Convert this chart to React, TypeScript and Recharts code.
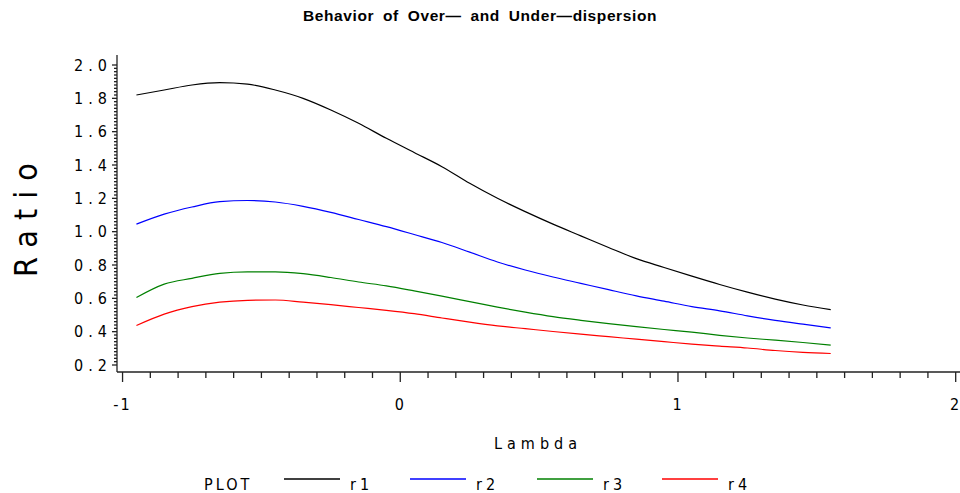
import React from 'react';
import { LineChart, Line, XAxis, YAxis, Legend } from 'recharts';

const lambda = [-0.95, -0.85, -0.75, -0.65, -0.55, -0.45, -0.35, -0.25, -0.15, -0.05, 0.05, 0.15, 0.25, 0.35, 0.45, 0.55, 0.65, 0.75, 0.85, 0.95, 1.05, 1.15, 1.25, 1.35, 1.45, 1.55];
const r1 = [1.82, 1.85, 1.88, 1.894, 1.885, 1.85, 1.8, 1.73, 1.65, 1.56, 1.475, 1.39, 1.29, 1.2, 1.12, 1.045, 0.975, 0.905, 0.838, 0.785, 0.733, 0.683, 0.637, 0.595, 0.56, 0.532];
const r2 = [1.045, 1.105, 1.148, 1.18, 1.187, 1.178, 1.152, 1.116, 1.073, 1.03, 0.983, 0.935, 0.877, 0.818, 0.77, 0.728, 0.69, 0.652, 0.615, 0.583, 0.55, 0.525, 0.495, 0.468, 0.445, 0.423];
const r3 = [0.605, 0.685, 0.72, 0.75, 0.759, 0.759, 0.748, 0.725, 0.698, 0.675, 0.645, 0.613, 0.58, 0.547, 0.517, 0.49, 0.468, 0.448, 0.43, 0.413, 0.397, 0.378, 0.362, 0.349, 0.335, 0.319];
const r4 = [0.437, 0.505, 0.55, 0.577, 0.588, 0.59, 0.577, 0.562, 0.545, 0.528, 0.508, 0.482, 0.457, 0.435, 0.418, 0.401, 0.385, 0.37, 0.355, 0.34, 0.325, 0.313, 0.302, 0.287, 0.276, 0.269];

const seriesNames = ['r1', 'r2', 'r3', 'r4'];
const seriesColors = ['#000000', '#0000ff', '#008000', '#ff0000'];
const seriesValues = [r1, r2, r3, r4];

const xMajorTicks = [-1, 0, 1, 2];
const xMajorLabels = ['-1', '0', '1', '2'];
const yMajorTicks = [0.2, 0.4, 0.6, 0.8, 1.0, 1.2, 1.4, 1.6, 1.8, 2.0];
const yMajorLabels = ['0.2', '0.4', '0.6', '0.8', '1.0', '1.2', '1.4', '1.6', '1.8', '2.0'];

const title = 'Behavior of Over\u2014 and Under\u2014dispersion';
const xTitle = 'Lambda';
const yTitle = 'Ratio';
const legendTitle = 'PLOT';

const data = lambda.map((x, i) => {
  const row: Record<string, number> = { lambda: x };
  seriesNames.forEach((n, k) => { row[n] = seriesValues[k][i]; });
  return row;
});

const xTicks: number[] = [];
for (let i = 0; i <= 30; i++) xTicks.push(Math.round((-1 + i * 0.1) * 10) / 10);
const yTicks: number[] = [];
for (let i = 0; i <= 90; i++) yTicks.push(Math.round((0.2 + i * 0.02) * 100) / 100);

const majorIndex = (v: number, majors: number[]) => majors.findIndex((m) => Math.abs(m - v) < 1e-6);

const FONT = "'Liberation Sans Narrow','DejaVu Sans Condensed',sans-serif";
const AXIS = '#222222';

const XTick = (props: any) => {
  const { x, y, payload } = props;
  const idx = majorIndex(payload.value, xMajorTicks);
  const major = idx >= 0;
  return (
    <g>
      <line x1={x} x2={x} y1={y} y2={y + (major ? 10 : 6)} stroke={AXIS} strokeWidth={1.3} />
      {major && (
        <text x={x} y={y + 38} textAnchor="middle" fontFamily={FONT} fontSize={16} fill="#000" letterSpacing={2}>
          {xMajorLabels[idx]}
        </text>
      )}
    </g>
  );
};

const YTick = (props: any) => {
  const { x, y, payload } = props;
  const idx = majorIndex(payload.value, yMajorTicks);
  const major = idx >= 0;
  return (
    <g>
      <line x1={x} x2={x - (major ? 5 : 3)} y1={y} y2={y} stroke={AXIS} strokeWidth={1.3} />
      {major && (
        <text x={x - 5} y={y + 5.5} textAnchor="end" fontFamily={FONT} fontSize={16} fill="#000" letterSpacing={5}>
          {yMajorLabels[idx]}
        </text>
      )}
    </g>
  );
};

const LegendContent = (props: any) => {
  const payload = props.payload || [];
  const starts = [284, 410, 537, 662];
  return (
    <svg width={960} height={30} style={{ display: 'block' }}>
      <text x={204} y={22} fontFamily={FONT} fontSize={16} letterSpacing={3} fill="#000">{legendTitle}</text>
      {payload.map((p: any, i: number) => (
        <g key={i}>
          <line x1={starts[i]} x2={starts[i] + 56} y1={11} y2={11} stroke={p.color} strokeWidth={1.3} />
          <text x={starts[i] + 66} y={22} fontFamily={FONT} fontSize={16} letterSpacing={4} fill="#000">{p.value}</text>
        </g>
      ))}
    </svg>
  );
};

export default function App() {
  return (
    <div style={{ position: 'absolute', left: 0, top: 0, width: 960, height: 493, background: '#fff' }}>
      <div style={{ position: 'absolute', left: 0, top: 7, width: 960, textAlign: 'center', fontFamily: "'Liberation Sans',Arial,sans-serif", fontWeight: 'bold', fontSize: 15.5, letterSpacing: 0.6, wordSpacing: 4, color: '#000' }}>
        {title}
      </div>
      <div style={{ position: 'absolute', left: 538 - 60, top: 434, width: 120, textAlign: 'center', fontFamily: FONT, fontSize: 16, letterSpacing: 5, color: '#000' }}>
        {xTitle}
      </div>
      <div style={{ position: 'absolute', left: 26 - 80, top: 215 - 20, width: 160, height: 40, lineHeight: '40px', textAlign: 'center', transform: 'rotate(-90deg)', fontFamily: FONT, fontSize: 32, letterSpacing: 10, color: '#000' }}>
        {yTitle}
      </div>
      <LineChart width={960} height={493} data={data} margin={{ top: 55, right: 0, bottom: 81, left: 57 }}>
        <XAxis
          dataKey="lambda"
          type="number"
          domain={[-1.02, 2.0155]}
          allowDataOverflow
          ticks={xTicks}
          interval={0}
          tickSize={0}
          tickMargin={0}
          tickLine={false}
          height={40}
          axisLine={{ stroke: AXIS, strokeWidth: 1.3 }}
          tick={<XTick />}
        />
        <XAxis
          xAxisId="top"
          orientation="top"
          type="number"
          domain={[-1.02, 2.0155]}
          allowDataOverflow
          tick={false}
          tickLine={false}
          height={0}
          axisLine={{ stroke: AXIS, strokeWidth: 1.3 }}
        />
        <YAxis
          type="number"
          domain={[0.158, 2.06]}
          allowDataOverflow
          ticks={yTicks}
          interval={0}
          tickSize={0}
          tickMargin={0}
          tickLine={false}
          width={60}
          axisLine={{ stroke: AXIS, strokeWidth: 1.3 }}
          tick={<YTick />}
        />
        {seriesNames.map((n, k) => (
          <Line key={n} dataKey={n} name={n} type="monotone" stroke={seriesColors[k]} strokeWidth={1.2} dot={false} activeDot={false} isAnimationActive={false} />
        ))}
        <Legend
          layout="horizontal"
          verticalAlign="middle"
          align="center"
          wrapperStyle={{ position: 'absolute', left: 0, top: 468, width: 960, height: 30 }}
          content={<LegendContent />}
        />
      </LineChart>
    </div>
  );
}
